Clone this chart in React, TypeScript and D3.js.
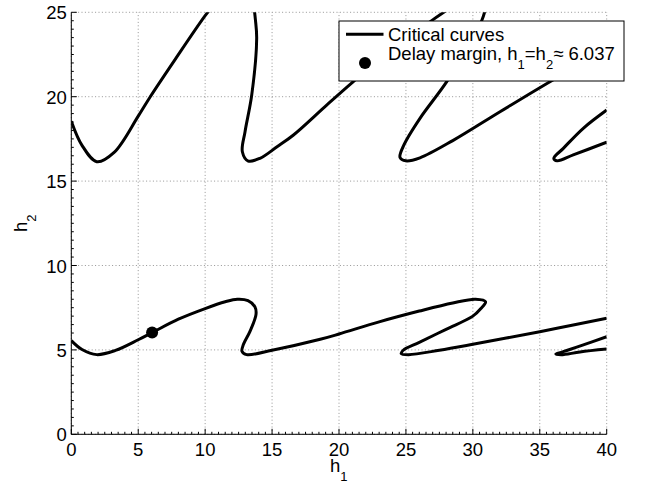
import React, { useEffect, useRef } from "react";
import * as d3 from "d3";

const xTicks = [0, 5, 10, 15, 20, 25, 30, 35, 40];
const yTicks = [0, 5, 10, 15, 20, 25];

// critical curves, points are [h1, h2]
const lowerMain: [number, number][] = [
  [0, 5.55], [0.8, 5.02], [1.9, 4.72], [3.3, 4.97], [5.0, 5.6], [6.05, 6.03],
  [8.0, 6.82], [10.0, 7.45], [11.5, 7.85], [12.4, 8.0], [13.2, 7.92], [13.72, 7.55],
  [13.8, 7.1], [13.35, 6.1], [12.85, 5.3], [12.75, 4.92], [13.1, 4.72], [15.0, 4.98],
  [18.6, 5.63], [20.0, 5.94], [23.0, 6.66], [26.0, 7.3], [28.5, 7.78], [30.2, 8.0],
  [30.95, 7.85], [30.6, 7.45], [30.0, 7.0], [28.0, 6.22], [26.0, 5.45], [24.8, 4.98],
  [24.65, 4.78], [25.2, 4.72], [27.5, 4.98], [30.0, 5.33], [32.5, 5.7], [35.0, 6.08],
  [37.5, 6.48], [40, 6.87],
];
const lowerSmall: [number, number][] = [
  [40, 5.78], [38.2, 5.28], [36.7, 4.88], [36.2, 4.76], [36.6, 4.71], [38.0, 4.88], [40, 5.05],
];
const upperFirst: [number, number][] = [
  [0, 18.55], [0.8, 17.12], [1.9, 16.15], [3.2, 16.7], [5.0, 18.85], [5.9, 20.0],
  [7.75, 22.2], [10.0, 24.8], [10.6, 25.4],
];
const upperSecond: [number, number][] = [
  [13.6, 25.6], [13.75, 24.6], [13.85, 23.45], [13.48, 20.1], [12.98, 17.93],
  [12.78, 16.74], [13.22, 16.19], [14.1, 16.35], [15.4, 17.05], [16.6, 17.73],
  [19.08, 19.5], [21.07, 20.89], [24.0, 22.85], [27.0, 24.55], [28.0, 25.1],
];
const upperThird: [number, number][] = [
  [31.0, 25.4], [30.66, 24.5], [29.3, 22.6], [28.05, 20.89], [26.05, 18.72],
  [24.85, 17.14], [24.56, 16.4], [25.0, 16.2], [26.05, 16.38], [28.5, 17.4],
  [32.03, 19.11], [35.76, 20.89], [40, 22.8],
];
const upperFourth: [number, number][] = [
  [40, 19.21], [38.25, 18.13], [36.76, 16.94], [36.05, 16.35], [36.3, 16.2],
  [37.5, 16.55], [40, 17.3],
];
const criticalCurves = [lowerMain, lowerSmall, upperFirst, upperSecond, upperThird, upperFourth];
const delayMargin = 6.037;

const font = "'Liberation Sans', Arial, Helvetica, sans-serif";

function App() {
  const ref = useRef<SVGSVGElement>(null);
  const width = 646;
  const height = 485;
  const margin = { top: 12.3, right: 39.3, bottom: 50.7, left: 71.3 };

  useEffect(() => {
    drawChart();
  }, []);

  function drawChart() {
    const svg = d3.select(ref.current);
    svg.selectAll("*").remove();

    const x = d3.scaleLinear().domain([0, 40]).range([margin.left, width - margin.right]);
    const y = d3.scaleLinear().domain([0, 25]).range([height - margin.bottom, margin.top]);
    const [x0, x1] = x.range();
    const [y0, y1] = y.range();

    svg.append("rect").attr("width", width).attr("height", height).attr("fill", "#fff");

    // dotted grid
    const grid = svg.append("g").attr("stroke", "#8a8a8a").attr("stroke-width", 0.9)
      .attr("stroke-dasharray", "1 2.4");
    xTicks.forEach((t) => {
      grid.append("line").attr("x1", x(t)).attr("x2", x(t)).attr("y1", y0).attr("y2", y1);
    });
    yTicks.forEach((t) => {
      grid.append("line").attr("x1", x0).attr("x2", x1).attr("y1", y(t)).attr("y2", y(t));
    });

    // axes lines, ticks pointing inwards
    const ax = svg.append("g").attr("stroke", "#000").attr("stroke-width", 1);
    ax.append("line").attr("x1", x0).attr("x2", x1).attr("y1", y0).attr("y2", y0);
    ax.append("line").attr("x1", x0).attr("x2", x0).attr("y1", y0).attr("y2", y1);
    d3.range(0, 40.001, 0.5).forEach((t) => {
      const len = t % 5 === 0 ? 5.5 : 2.5;
      ax.append("line").attr("x1", x(t)).attr("x2", x(t)).attr("y1", y0).attr("y2", y0 - len);
    });
    d3.range(0, 25.001, 0.5).forEach((t) => {
      const len = t % 5 === 0 ? 5.5 : 2.5;
      ax.append("line").attr("x1", x0).attr("x2", x0 + len).attr("y1", y(t)).attr("y2", y(t));
    });

    const labels = svg.append("g").style("font-family", font).style("font-size", "18.5px").attr("fill", "#000");
    xTicks.forEach((t) => {
      labels.append("text").attr("x", x(t)).attr("y", y0 + 21.7).attr("text-anchor", "middle").text(t);
    });
    yTicks.forEach((t) => {
      labels.append("text").attr("x", x0 - 4.5).attr("y", y(t) + 7).attr("text-anchor", "end").text(t);
    });

    // axis titles
    const xl = labels.append("text").attr("x", 330).attr("y", 472);
    xl.append("tspan").text("h");
    xl.append("tspan").attr("dy", 8.5).style("font-size", "13px").text("1");
    const yl = labels.append("text").attr("transform", "translate(26.7,232) rotate(-90)");
    yl.append("tspan").text("h");
    yl.append("tspan").attr("dy", 9).style("font-size", "13px").text("2");

    // curves
    svg.append("clipPath").attr("id", "plot-clip").append("rect")
      .attr("x", x0).attr("y", y1).attr("width", x1 - x0).attr("height", y0 - y1);

    const line = d3.line<[number, number]>()
      .x((d) => x(d[0]))
      .y((d) => y(d[1]))
      .curve(d3.curveCatmullRom.alpha(0.5));

    svg.append("g").attr("clip-path", "url(#plot-clip)")
      .selectAll("path")
      .data(criticalCurves)
      .enter()
      .append("path")
      .attr("d", (d) => line(d))
      .attr("fill", "none")
      .attr("stroke", "#000")
      .attr("stroke-width", 3)
      .attr("stroke-linejoin", "round");

    svg.append("circle").attr("cx", x(delayMargin)).attr("cy", y(delayMargin)).attr("r", 6).attr("fill", "#000");

    // legend
    const lg = svg.append("g");
    lg.append("rect").attr("x", 339).attr("y", 21).attr("width", 285).attr("height", 60)
      .attr("fill", "#fff").attr("stroke", "#000").attr("stroke-width", 1);
    lg.append("line").attr("x1", 346).attr("x2", 383.5).attr("y1", 34.3).attr("y2", 34.3)
      .attr("stroke", "#000").attr("stroke-width", 3);
    lg.append("circle").attr("cx", 365).attr("cy", 63).attr("r", 6).attr("fill", "#000");
    const lt = lg.append("g").style("font-family", font).style("font-size", "18.5px");
    lt.append("text").attr("x", 388).attr("y", 40.5).text("Critical curves");
    const t2 = lt.append("text").attr("x", 388).attr("y", 59.5);
    t2.append("tspan").text("Delay margin, h");
    t2.append("tspan").attr("dy", 9).style("font-size", "13px").text("1");
    t2.append("tspan").attr("dy", -9).text("=h");
    t2.append("tspan").attr("dy", 9).style("font-size", "13px").text("2");
    t2.append("tspan").attr("dy", -9).text("\u2248 " + delayMargin.toFixed(3));
  }

  return (
    <svg ref={ref} width={width} height={height}
      style={{ position: "absolute", left: 0, top: 0, display: "block" }} />
  );
}

export default App;
